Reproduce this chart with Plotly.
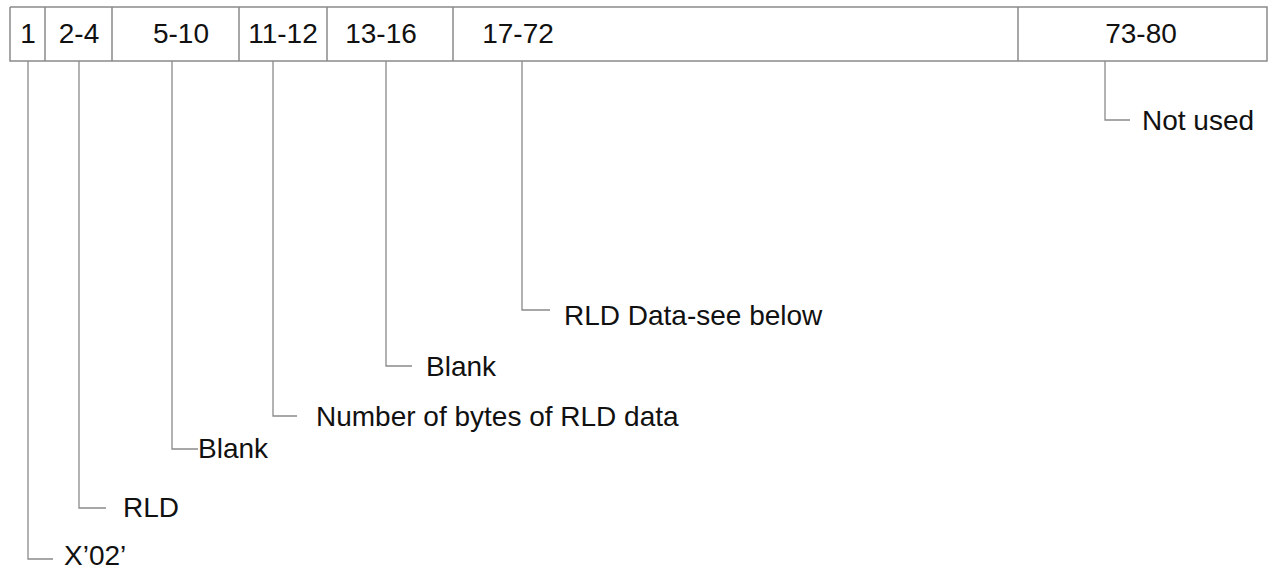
import plotly.graph_objects as go

# ---- data ----
field_columns = ["1", "2-4", "5-10", "11-12", "13-16", "17-72", "73-80"]
field_descriptions = ["X\u201902\u2019", "RLD", "Blank", "Number of bytes of RLD data",
                      "Blank", "RLD Data-see below", "Not used"]

# ---- layout geometry (pixels, y downward) ----
box_left, box_right, box_top, box_bottom = 10, 1267, 7, 61
dividers = [45, 112, 239, 327, 453, 1018]
label_x = [28, 79, 181, 283, 381, 518, 1141]
label_y = 36
leader_x = [28, 79, 172, 273, 386, 522, 1105]
leader_y = [559, 508, 449, 416, 366, 310, 120]
leader_len = [25, 27, 26, 24, 26, 28, 25]
text_gap = [11, 17, 0, 19, 14, 14, 12]
text_y = [558, 510, 451, 419, 369, 318, 123]

LINE = "#8a8a8a"
TXT = "#111111"
FONT = "Liberation Sans, Arial, sans-serif"
FS = 28

fig = go.Figure()

# box outline and dividers
bx, by = [], []
bx += [box_left, box_right, box_right, box_left, box_left, None]
by += [box_top, box_top, box_bottom, box_bottom, box_top, None]
for d in dividers:
    bx += [d, d, None]
    by += [box_top, box_bottom, None]
fig.add_trace(go.Scatter(x=bx, y=by, mode="lines", line=dict(color=LINE, width=1.5),
                         hoverinfo="skip", showlegend=False))

# leader lines
lx, ly = [], []
for x0, y1, ln in zip(leader_x, leader_y, leader_len):
    lx += [x0, x0, x0 + ln, None]
    ly += [box_bottom, y1, y1, None]
fig.add_trace(go.Scatter(x=lx, y=ly, mode="lines", line=dict(color=LINE, width=1.3),
                         hoverinfo="skip", showlegend=False))

# header labels
fig.add_trace(go.Scatter(x=label_x, y=[label_y] * len(label_x), mode="text",
                         text=field_columns, textposition="middle center",
                         textfont=dict(family=FONT, size=FS, color=TXT),
                         hoverinfo="skip", showlegend=False))

# description labels
tx = [x0 + ln + g for x0, ln, g in zip(leader_x, leader_len, text_gap)]
fig.add_trace(go.Scatter(x=tx, y=text_y, mode="text", text=field_descriptions,
                         textposition="middle right",
                         textfont=dict(family=FONT, size=FS, color=TXT),
                         hoverinfo="skip", showlegend=False, cliponaxis=False))

fig.update_layout(
    width=1273, height=569,
    margin=dict(l=0, r=0, t=0, b=0),
    paper_bgcolor="white", plot_bgcolor="white",
    xaxis=dict(range=[0, 1273], visible=False, fixedrange=True),
    yaxis=dict(range=[569, 0], visible=False, fixedrange=True),
)

fig.write_html("out.html", config={"displayModeBar": False},
               post_script="document.body.style.margin='0';document.body.style.overflow='hidden';")
